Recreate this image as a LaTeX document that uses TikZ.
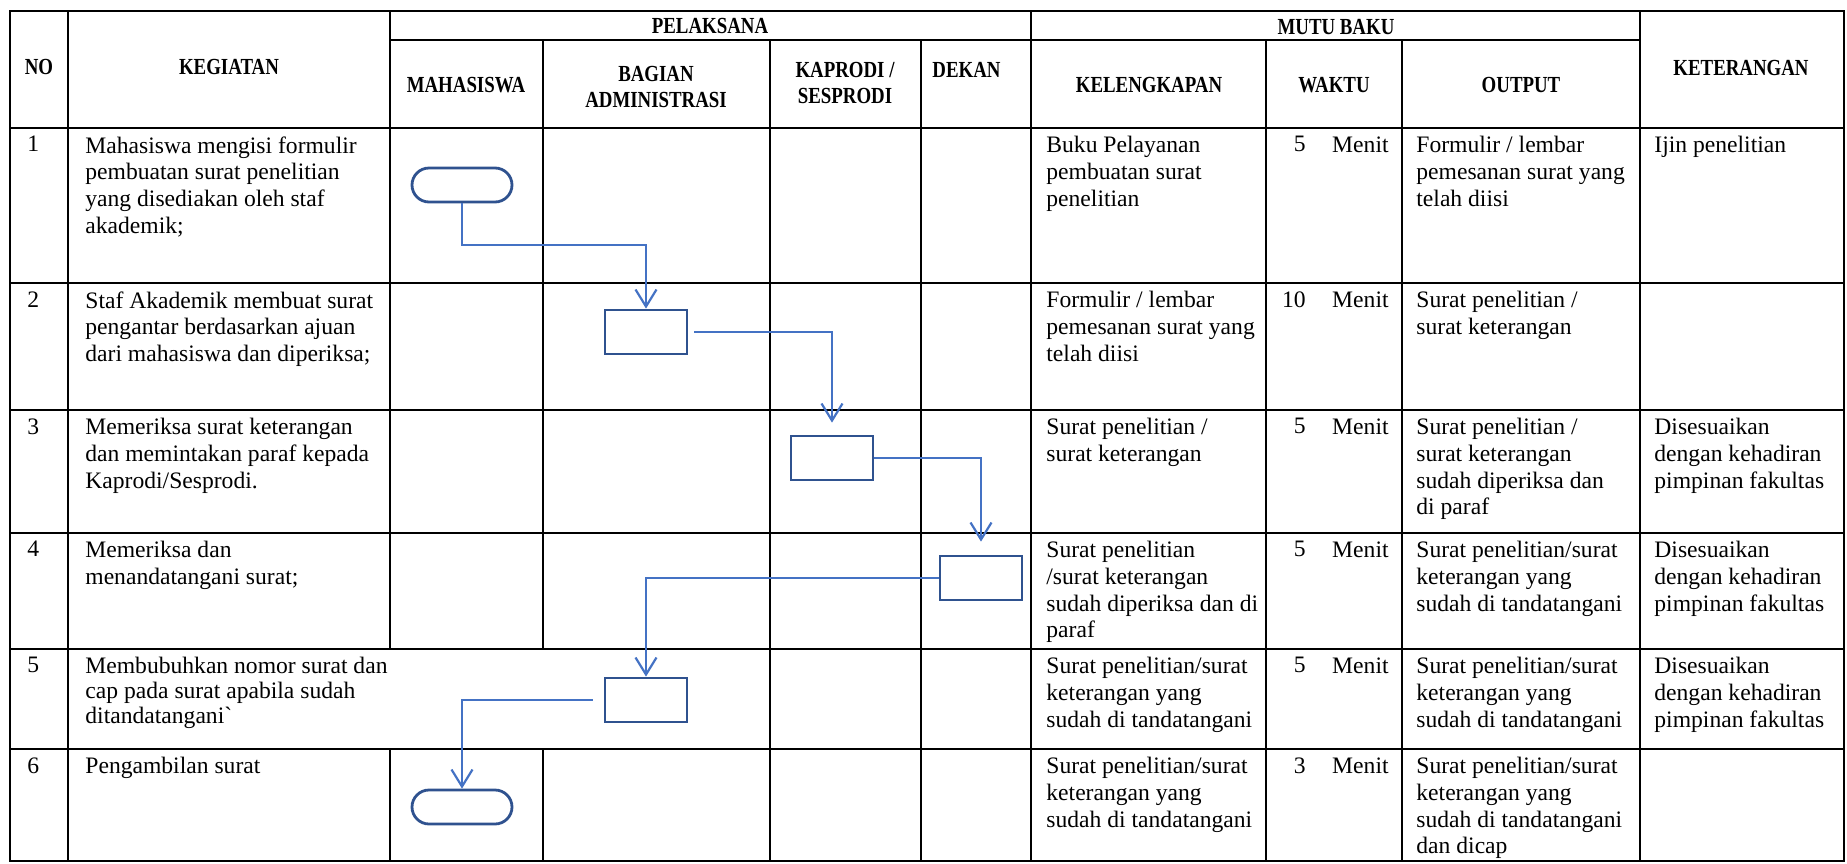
\documentclass[tikz,border=0pt]{standalone}
\usepackage{fontspec}
\setmainfont{Liberation Serif}[Ligatures=TeXOff]
\newfontfamily\headfont{Liberation Serif}[FakeStretch=0.82]
\usetikzlibrary{arrows.meta, shapes.misc}
\definecolor{boxblue}{HTML}{2F528F}
\definecolor{flowblue}{HTML}{4472C4}

\begin{document}
\begin{tikzpicture}[x=0.5pt, y=-0.5pt,
    tline/.style={line width=1pt, line cap=rect},
    rline/.style={line width=1.3pt, line cap=rect},
    hdr/.style={font=\headfont\bfseries\fontsize{11.5}{13.25}\selectfont, align=center, inner sep=0pt},
    txt/.style={font=\fontsize{11.8}{13.35}\selectfont, align=left, anchor=north west, inner sep=0pt},
    mins/.style={font=\fontsize{11.8}{13.35}\selectfont, anchor=north east, inner sep=0pt},
    terminal/.style={rounded rectangle, draw=boxblue, line width=1.4pt, minimum width=50pt, minimum height=17pt, inner sep=0pt},
    proc/.style={rectangle, draw=boxblue, line width=1.4pt, minimum width=41pt, minimum height=22pt, inner sep=0pt},
    flow/.style={draw=flowblue, line width=1.1pt, -{Straight Barb[length=8.5pt, width=10.5pt]}}]
    \useasboundingbox (0,0) rectangle (1847,863);

    % table frame and row lines
    \draw[rline] (10,11) rectangle (1844,861);
    \draw[rline] (390,40) -- (1640,40);
    \draw[rline] (10,128) -- (1844,128);
    \draw[rline] (10,283) -- (1844,283);
    \draw[rline] (10,410) -- (1844,410);
    \draw[rline] (10,533) -- (1844,533);
    \draw[rline] (10,649) -- (1844,649);
    \draw[rline] (10,749) -- (1844,749);

    % column lines (row 5 is open across Kegiatan / Mahasiswa)
    \draw[tline] (68,11) -- (68,861);
    \draw[tline] (390,11) -- (390,649) (390,749) -- (390,861);
    \draw[tline] (543,40) -- (543,649) (543,749) -- (543,861);
    \draw[tline] (770,40) -- (770,861);
    \draw[tline] (921,40) -- (921,861);
    \draw[tline] (1031,11) -- (1031,861);
    \draw[tline] (1266,40) -- (1266,861);
    \draw[tline] (1402,40) -- (1402,861);
    \draw[tline] (1640,11) -- (1640,861);

    % header
    \node[hdr] (hno) at (39,67) {NO};
    \node[hdr] (hkeg) at (229,67) {KEGIATAN};
    \node[hdr] (hpel) at (710,26) {PELAKSANA};
    \node[hdr] (hmutu) at (1336,27) {MUTU BAKU};
    \node[hdr] (hket) at (1741,68) {KETERANGAN};
    \node[hdr] (hmhs) at (466,85) {MAHASISWA};
    \node[hdr] (hadm) at (656,87) {BAGIAN\\ADMINISTRASI};
    \node[hdr] (hkap) at (845,83) {KAPRODI /\\SESPRODI};
    \node[hdr, anchor=west] (hdek) at (932,70) {DEKAN};
    \node[hdr] (hkel) at (1149,85) {KELENGKAPAN};
    \node[hdr] (hwkt) at (1334,85) {WAKTU};
    \node[hdr] (hout) at (1521,85) {OUTPUT};

    % row 1
    \node[txt] (no1) at (27,136) {1};
    \node[txt] (keg1) at (85,136) {Mahasiswa mengisi formulir\\pembuatan surat penelitian\\yang disediakan oleh staf\\akademik;};
    \node[txt] (kel1) at (1046,136) {Buku Pelayanan\\pembuatan surat\\penelitian};
    \node[mins] (wkt1) at (1306,136) {5};
    \node[mins] (mnt1) at (1389,136) {Menit};
    \node[txt] (out1) at (1416,136) {Formulir / lembar\\pemesanan surat yang\\telah diisi};
    \node[txt] (ket1) at (1654,136) {Ijin penelitian};

    % row 2
    \node[txt] (no2) at (27,291) {2};
    \node[txt] (keg2) at (85,291) {Staf Akademik membuat surat\\pengantar berdasarkan ajuan\\dari mahasiswa dan diperiksa;};
    \node[txt] (kel2) at (1046,291) {Formulir / lembar\\pemesanan surat yang\\telah diisi};
    \node[mins] (wkt2) at (1306,291) {10};
    \node[mins] (mnt2) at (1389,291) {Menit};
    \node[txt] (out2) at (1416,291) {Surat penelitian /\\surat keterangan};

    % row 3
    \node[txt] (no3) at (27,418) {3};
    \node[txt] (keg3) at (85,418) {Memeriksa surat keterangan\\dan memintakan paraf kepada\\Kaprodi/Sesprodi.};
    \node[txt] (kel3) at (1046,418) {Surat penelitian /\\surat keterangan};
    \node[mins] (wkt3) at (1306,418) {5};
    \node[mins] (mnt3) at (1389,418) {Menit};
    \node[txt] (out3) at (1416,418) {Surat penelitian /\\surat keterangan\\sudah diperiksa dan\\di paraf};
    \node[txt] (ket3) at (1654,418) {Disesuaikan\\dengan kehadiran\\pimpinan fakultas};

    % row 4
    \node[txt] (no4) at (27,541) {4};
    \node[txt] (keg4) at (85,541) {Memeriksa dan\\menandatangani surat;};
    \node[txt] (kel4) at (1046,541) {Surat penelitian\\/surat keterangan\\sudah diperiksa dan di\\paraf};
    \node[mins] (wkt4) at (1306,541) {5};
    \node[mins] (mnt4) at (1389,541) {Menit};
    \node[txt] (out4) at (1416,541) {Surat penelitian/surat\\keterangan yang\\sudah di tandatangani};
    \node[txt] (ket4) at (1654,541) {Disesuaikan\\dengan kehadiran\\pimpinan fakultas};

    % row 5
    \node[txt] (no5) at (27,657) {5};
    \node[txt, font=\fontsize{11.8}{12.4}\selectfont] (keg5) at (85,657) {Membubuhkan nomor surat dan\\cap pada surat apabila sudah\\ditandatangani`};
    \node[txt] (kel5) at (1046,657) {Surat penelitian/surat\\keterangan yang\\sudah di tandatangani};
    \node[mins] (wkt5) at (1306,657) {5};
    \node[mins] (mnt5) at (1389,657) {Menit};
    \node[txt] (out5) at (1416,657) {Surat penelitian/surat\\keterangan yang\\sudah di tandatangani};
    \node[txt] (ket5) at (1654,657) {Disesuaikan\\dengan kehadiran\\pimpinan fakultas};

    % row 6
    \node[txt] (no6) at (27,757) {6};
    \node[txt] (keg6) at (85,757) {Pengambilan surat};
    \node[txt] (kel6) at (1046,757) {Surat penelitian/surat\\keterangan yang\\sudah di tandatangani};
    \node[mins] (wkt6) at (1306,757) {3};
    \node[mins] (mnt6) at (1389,757) {Menit};
    \node[txt] (out6) at (1416,757) {Surat penelitian/surat\\keterangan yang\\sudah di tandatangani\\dan dicap};

    % flow symbols
    \node[terminal] (t1) at (462,185) {};
    \node[proc] (b2) at (646,332) {};
    \node[proc] (b3) at (832,458) {};
    \node[proc] (b4) at (981,578) {};
    \node[proc] (b5) at (646,700) {};
    \node[terminal] (t2) at (462,807) {};

    % connectors
    \coordinate (k1) at (462,245);
    \draw[flow] (t1.south) -- (k1) -| (b2.north);
    \draw[flow, shorten <=3pt, shorten >=6pt] (b2.east) -| (b3.north);
    \draw[flow, shorten >=6.5pt] (b3.east) -| (b4.north);
    \draw[flow] (b4.west) -| (b5.north);
    \draw[flow, shorten <=5.5pt] (b5.west) -| (t2.north);
\end{tikzpicture}
\end{document}
